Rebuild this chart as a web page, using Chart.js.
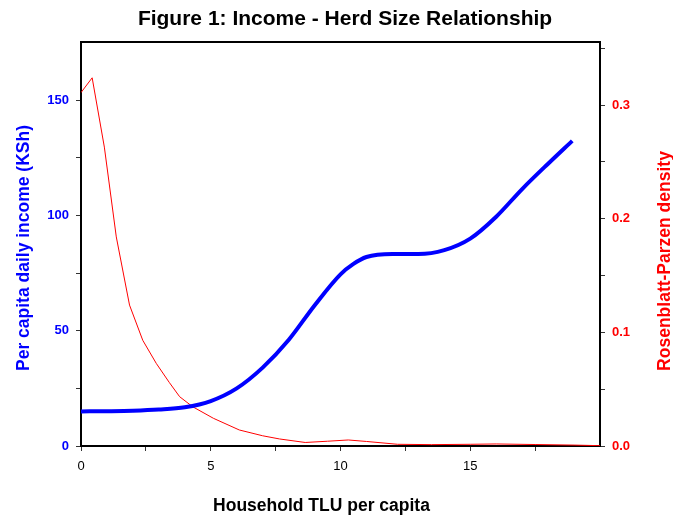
<!DOCTYPE html>
<html>
<head>
<meta charset="utf-8">
<script src="https://cdn.jsdelivr.net/npm/chart.js@4/dist/chart.umd.min.js"></script>
<style>
  html,body{margin:0;padding:0;background:#fff;}
  canvas{display:block;}
</style>
</head>
<body>
<canvas id="herdChart" width="673" height="518"></canvas>
<script>
// income curve (left axis, KSh)
const incomeX=[0,1,2,3,4,5,6,7,8,9,10,10.5,11,12,13,14,15,16,17,18,18.93];
const incomeY=[15,15.1,15.3,15.8,16.8,19.5,25,34,46,61,74.5,79,82,83.3,83.3,85,90,99.5,111.5,122.5,132.4];
// Rosenblatt-Parzen density (right axis)
const densX=[0,0.43,0.9,1.36,1.87,2.38,2.9,3.4,3.8,4.3,5.1,6.1,7,7.65,8.64,9.5,10.3,11,12.2,13.5,15,16,17.5,19,20];
const densY=[0.311,0.324,0.263,0.184,0.124,0.093,0.0727,0.056,0.0434,0.0346,0.0244,0.0141,0.009,0.0062,0.0031,0.0042,0.0053,0.004,0.0015,0.0012,0.0015,0.0018,0.0013,0.0008,0.0003];
// ticks
const xTicks=[0,2.5,5,7.5,10,12.5,15,17.5];
const incomeTicks=[0,25,50,75,100,125,150];
const densTicks=[0,0.05,0.1,0.15,0.2,0.25,0.3,0.35];

const FONT='"Liberation Sans", Arial, sans-serif';
const BLUE='#0000ff', RED='#ff0000';

const setTicks=list=>scale=>{scale.ticks=list.map(v=>({value:v}));};

const titles={
  id:'titles',
  afterDraw(chart){
    const {ctx,chartArea:a}=chart;
    ctx.save();
    // top frame line
    ctx.strokeStyle='#000';ctx.lineWidth=2;
    ctx.beginPath();ctx.moveTo(a.left-1,a.top);ctx.lineTo(a.right+1,a.top);ctx.stroke();
    ctx.textAlign='center';ctx.textBaseline='middle';
    ctx.fillStyle='#000';
    ctx.font='bold 21px '+FONT;
    ctx.fillText('Figure 1: Income - Herd Size Relationship',345,19);
    ctx.font='bold 17.5px '+FONT;
    ctx.fillText('Household TLU per capita',321.5,506);
    ctx.save();
    ctx.translate(24,248);ctx.rotate(-Math.PI/2);
    ctx.fillStyle=BLUE;ctx.fillText('Per capita daily income (KSh)',0,0);
    ctx.restore();
    ctx.save();
    ctx.translate(665,261);ctx.rotate(-Math.PI/2);
    ctx.fillStyle=RED;ctx.fillText('Rosenblatt-Parzen density',0,0);
    ctx.restore();
    ctx.restore();
  }
};

new Chart(document.getElementById('herdChart'),{
  type:'line',
  data:{datasets:[
    {label:'Income',data:incomeX.map((x,i)=>({x,y:incomeY[i]})),yAxisID:'y',
     borderColor:BLUE,borderWidth:4,pointRadius:0,cubicInterpolationMode:'monotone'},
    {label:'Density',data:densX.map((x,i)=>({x,y:densY[i]})),yAxisID:'y1',
     borderColor:RED,borderWidth:1,pointRadius:0,tension:0}
  ]},
  options:{
    responsive:false,animation:false,
    layout:{padding:{top:42,left:0,right:0,bottom:0}},
    plugins:{legend:{display:false},tooltip:{enabled:false}},
    scales:{
      x:{type:'linear',min:0,max:20,
        afterBuildTicks:setTicks(xTicks),
        afterFit(s){s.height=72;},
        border:{color:'#000',width:2},
        grid:{drawOnChartArea:false,tickLength:5,color:'#333',lineWidth:1},
        ticks:{color:'#000',font:{family:FONT,size:13},padding:8,maxRotation:0,autoSkip:false,
          callback:v=>v%5===0?String(v):''}},
      y:{type:'linear',position:'left',min:0,max:175.3,
        afterBuildTicks:setTicks(incomeTicks),
        afterFit(s){s.width=81;},
        border:{color:'#000',width:2},
        grid:{drawOnChartArea:false,tickLength:5,color:'#333',lineWidth:1},
        ticks:{color:BLUE,font:{family:FONT,size:13,weight:'bold'},padding:7,autoSkip:false,
          callback:v=>v%50===0?String(v):''}},
      y1:{type:'linear',position:'right',min:0,max:0.3555,
        afterBuildTicks:setTicks(densTicks),
        afterFit(s){s.width=73;},
        border:{color:'#000',width:2},
        grid:{drawOnChartArea:false,tickLength:5,color:'#333',lineWidth:1},
        ticks:{color:RED,font:{family:FONT,size:13,weight:'bold'},padding:7,autoSkip:false,
          callback:v=>Math.abs(v*10-Math.round(v*10))<1e-6?v.toFixed(1):''}}
    }
  },
  plugins:[titles]
});
</script>
</body>
</html>
